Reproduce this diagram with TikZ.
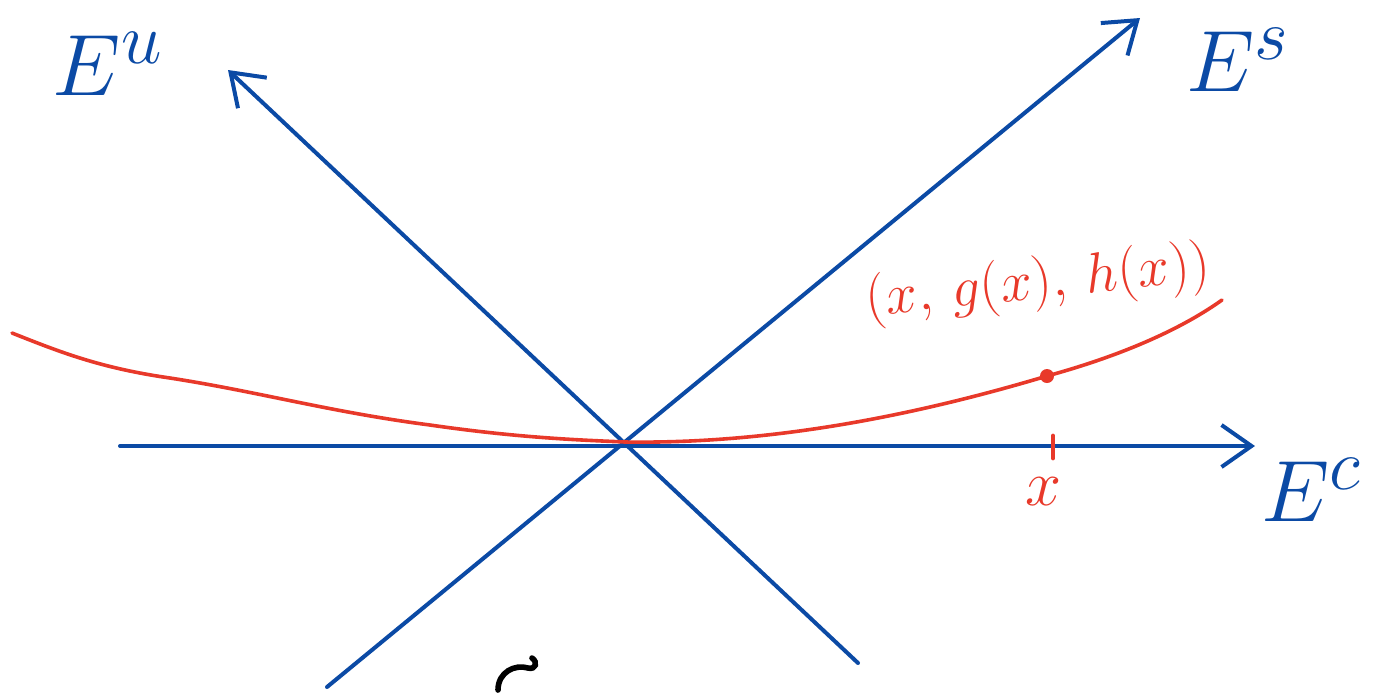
\documentclass[tikz,border=0pt]{standalone}
\usetikzlibrary{arrows.meta}
\definecolor{axblue}{HTML}{0B4AA5}
\definecolor{curvered}{HTML}{E8392A}
\begin{document}
\begin{tikzpicture}[x=0.5pt,y=-0.5pt,
  axis/.style={draw=axblue,line width=2pt,line cap=round,
    -{Straight Barb[length=15pt,width=21pt,line width=2pt]}},
  redline/.style={draw=curvered,line width=1.8pt,line cap=round},
  bluelab/.style={text=axblue,font=\Huge,scale=1.75},
  redlab/.style={text=curvered,font=\Huge,scale=1.3}]
\useasboundingbox (0,0) rectangle (1381,692);
% points
\coordinate (O) at (625,442);
\coordinate (cL) at (120,446);
\coordinate (cR) at (1255,446);
\coordinate (uT) at (228,70);
\coordinate (uB) at (858,663);
\coordinate (sT) at (1140,18);
\coordinate (sB) at (327,687);
% axes
\draw[axis] (cL) -- (cR);
\draw[axis] (uB) -- (uT);
\draw[axis] (sB) -- (sT);
% labels
\node[bluelab] (Eu) at (108,64) {$E^{u}$};
\node[bluelab] (Es) at (1238,60) {$E^{s}$};
\node[bluelab] (Ec) at (1312,490) {$E^{c}$};
% red curve
\draw[redline] (12,333) .. controls (60,352) and (100,368) .. (170,378)
  .. controls (260,392) and (330,412) .. (430,425)
  .. controls (520,438) and (580,440) .. (O)
  .. controls (760,444) and (900,420) .. (1047,376)
  .. controls (1120,356) and (1180,330) .. (1222,300);
\coordinate (P) at (1047,376);
\fill[curvered] (P) circle (3.5pt);
\coordinate (tA) at (1053,436);
\coordinate (tB) at (1053,458);
\draw[redline,line width=2.4pt] (tA) -- (tB);
\node[redlab] (xl) at (1043,492) {$x$};
\node[redlab,scale=0.88,rotate=6] (pt) at (1038,284) {$(x,\,g(x),\,h(x))$};
% black fragment at bottom
\coordinate (k1) at (498,690);
\coordinate (k2) at (532,658);
\draw[black,line width=2.8pt,line cap=round] (k1) .. controls (498,672) and (515,664) .. (528,668)
  .. controls (536,670) and (538,662) .. (k2);
\end{tikzpicture}
\end{document}
